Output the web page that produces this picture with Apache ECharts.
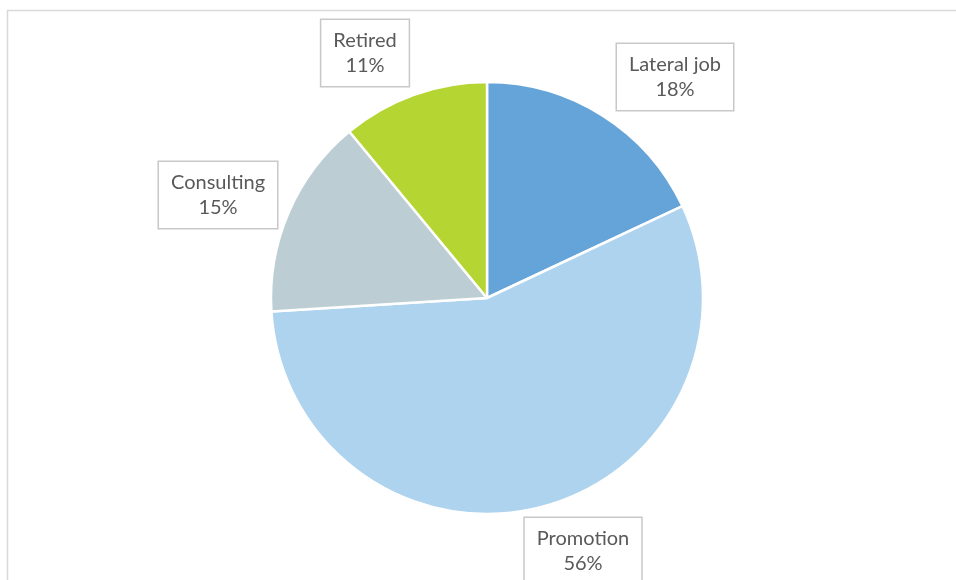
<!DOCTYPE html>
<html>
<head>
<meta charset="utf-8">
<script src="https://cdn.jsdelivr.net/npm/echarts@6/dist/echarts.min.js"></script>
<style>
  html, body { margin: 0; padding: 0; background: #fff; }
  #main { width: 956px; height: 580px; }
</style>
</head>
<body>
<div id="main"></div>
<script>
// 数据
const categories = ['Lateral job', 'Promotion', 'Consulting', 'Retired'];
const shares = [18, 56, 15, 11];
const colors = ['#65A4D8', '#AED3EE', '#BDCDD4', '#B5D533'];

// label box centres (px), Excel "best fit" placement
const labelPos = [[675, 77], [583, 551], [218, 195], [365, 53]];

const chart = echarts.init(document.getElementById('main'), null, { renderer: 'canvas' });

var option = {
  animation: false,
  graphic: [{
    type: 'rect',
    shape: { x: 7.5, y: 10.5, width: 980, height: 620 },
    style: { fill: 'none', stroke: '#D9D9D9', lineWidth: 1.5 },
    silent: true
  }],
  series: [{
    type: 'pie',
    center: [487, 298],
    radius: 216,
    startAngle: 90,
    clockwise: true,
    itemStyle: {
      borderColor: '#fff',
      borderWidth: 2.5
    },
    label: {
      show: true,
      formatter: '{b}\n{c}%',
      fontFamily: 'Lato, "Noto Sans", sans-serif',
      fontSize: 20,
      lineHeight: 25,
      color: '#595959',
      align: 'center',
      backgroundColor: '#fff',
      borderColor: '#C8C8C8',
      borderWidth: 1.5,
      padding: [8, 12, 8, 12]
    },
    labelLine: { show: false },
    labelLayout: function (params) {
      const p = labelPos[params.dataIndex];
      return { x: p[0], y: p[1], align: 'center', verticalAlign: 'middle' };
    },
    data: categories.map(function (name, i) {
      return { name: name, value: shares[i], itemStyle: { color: colors[i] } };
    })
  }]
};
chart.setOption(option);
</script>
</body>
</html>
